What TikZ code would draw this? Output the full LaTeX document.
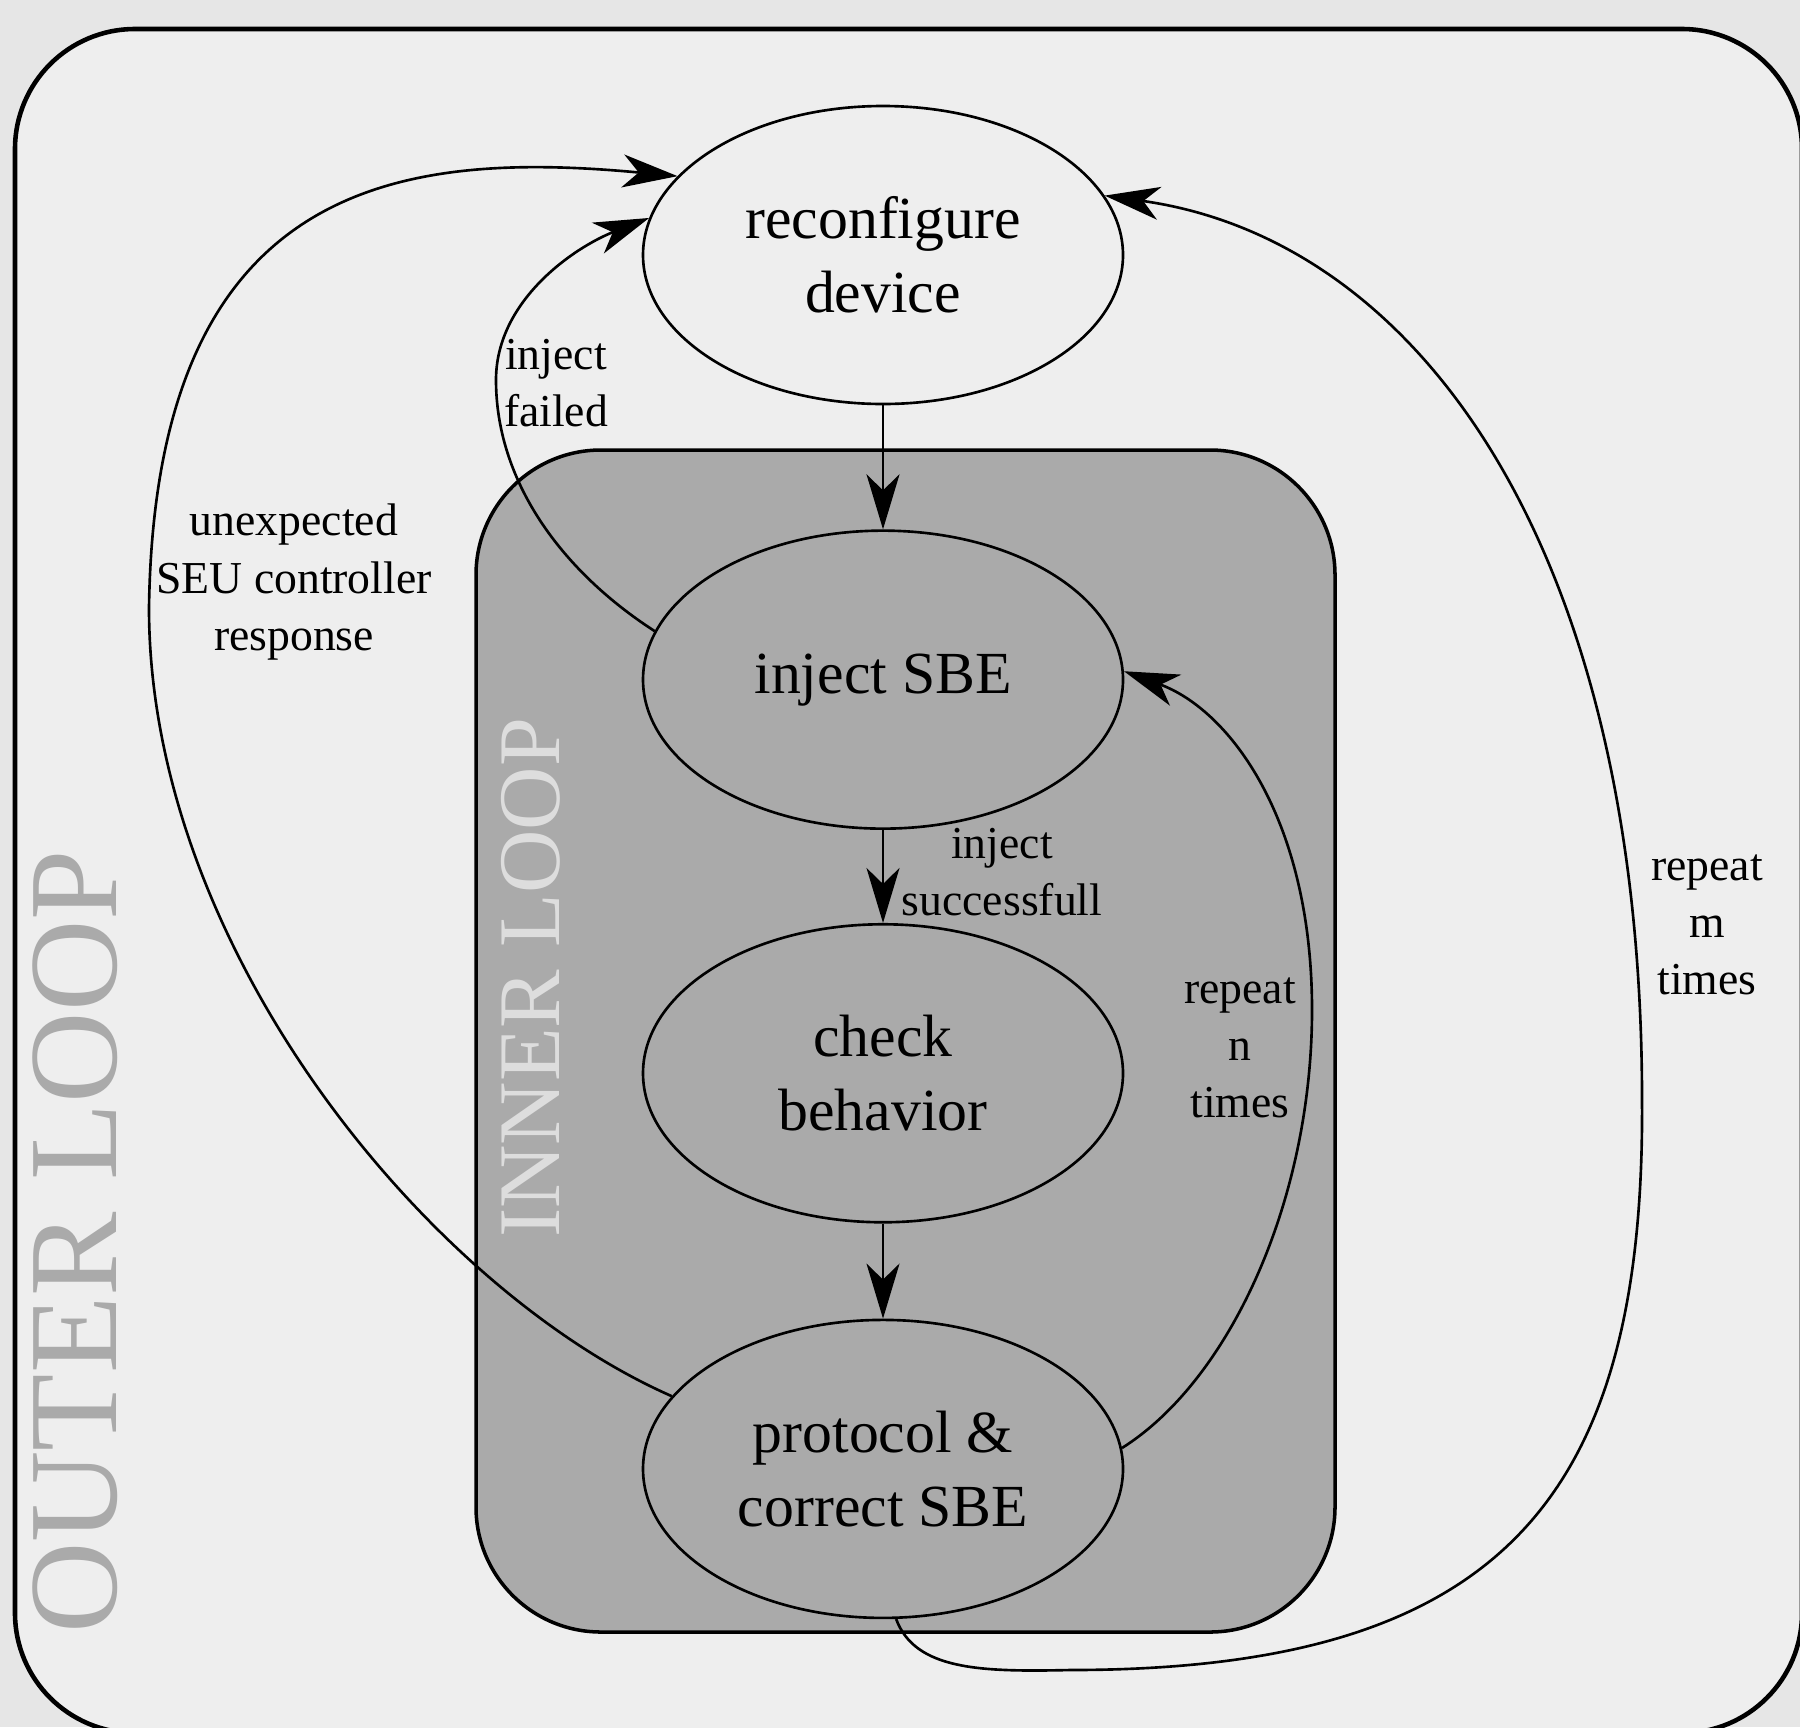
\documentclass[tikz,border=0pt]{standalone}
\usepackage{fontspec}
\setmainfont{Liberation Serif}
\usetikzlibrary{arrows.meta,positioning,shapes.geometric}
\definecolor{outerbg}{HTML}{E6E6E6}
\definecolor{framefill}{HTML}{EEEEEE}
\definecolor{innerfill}{HTML}{AAAAAA}
\definecolor{looptext}{HTML}{AAAAAA}
\definecolor{innertext}{HTML}{DDDDDD}

\begin{document}
\begin{tikzpicture}[
  x=0.1mm,y=-0.1mm,
  state/.style={draw,ellipse,line width=0.75pt,minimum width=48mm,minimum height=29.8mm,inner sep=0pt,align=center,font=\fontsize{17}{21}\selectfont},
  lbl/.style={align=center,font=\fontsize{13}{16.3}\selectfont},
  frame/.style={draw,line width=1.3pt},
  conn/.style={draw,->,line width=0.75pt},
  >={Stealth[length=5.5mm,width=3.3mm,inset=1.6mm]}
]
\useasboundingbox (0,0) rectangle (1800,1727);
\fill[outerbg] (0,0) rectangle (1800,1727);

% loop frames
\draw[frame,fill=framefill,rounded corners=12mm] (15,29) rectangle (1802,1733);
\draw[frame,fill=innerfill,line width=1pt,rounded corners=12.5mm] (476,450) rectangle (1335,1632);
\node[rotate=90,text=looptext,font=\fontsize{36}{36}\selectfont] (outer) at (75,1242) {OUTER LOOP};
\node[rotate=90,text=innertext,font=\fontsize{25}{25}\selectfont] (inner) at (531,978) {INNER LOOP};

% states
\node[state] (reconf) at (883,255) {reconfigure\\device};
\node[state,below=12.4mm of reconf] (inject) {inject SBE};
\node[state,below=9.3mm of inject] (check) {check\\behavior};
\node[state,below=9.5mm of check] (protocol) {protocol \&\\correct SBE};

\draw[conn] (reconf) -- (inject);
\draw[conn] (inject) -- (check);
\draw[conn] (check) -- (protocol);

% back edges
\draw[conn] (inject.168) .. controls (560,570) and (496,480) .. (496,380)
  .. controls (496,300) and (575,247) .. (reconf.171);
\draw[conn] (protocol.161) .. controls (430,1290) and (149,950) .. (149,608)
  .. controls (155,180) and (400,150) .. (reconf.159);
\draw[conn] (protocol.5) .. controls (1230,1380) and (1312,1200) .. (1312,1010)
  .. controls (1312,820) and (1230,710) .. (inject.2);
\draw[conn] (protocol.-85) .. controls (915,1670) and (980,1672) .. (1070,1670)
  .. controls (1500,1670) and (1645,1500) .. (1642,1100)
  .. controls (1642,550) and (1420,240) .. (reconf.15);

% labels
\node[lbl] (failed) at (556,383) {inject\\failed};
\node[lbl] (unexp) at (294,582) {unexpected\\SEU controller\\response};
\node[lbl] (success) at (1002,872) {inject\\successfull};
\node[lbl] (repn) at (1240,1048) {repeat\\n\\times};
\node[lbl] (repm) at (1707,925) {repeat\\m\\times};
\end{tikzpicture}
\end{document}
